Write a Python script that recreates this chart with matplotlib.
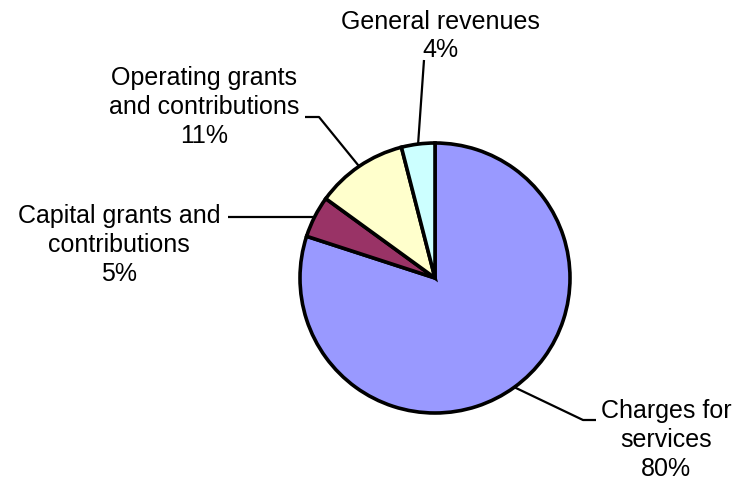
import numpy as np
import matplotlib.pyplot as plt

plt.rcParams['font.family'] = ['Liberation Sans', 'DejaVu Sans']

# Revenue sources, shares in percent
labels = ['Charges for\nservices', 'Capital grants and\ncontributions',
          'Operating grants\nand contributions', 'General revenues']
shares = [80, 5, 11, 4]
colors = ['#9999FF', '#993366', '#FFFFCC', '#CCFFFF']

W, H = 741, 483
cx, cy, r = 435, H - 278, 135

fig = plt.figure(figsize=(W / 100, H / 100), dpi=100)
ax = fig.add_axes([0, 0, 1, 1])

wedges, _ = ax.pie(shares, colors=colors, startangle=90, counterclock=False,
                   center=(cx, cy), radius=r,
                   wedgeprops=dict(edgecolor='black', linewidth=2.6))

# pie() sets its own limits, so work in pixel units afterwards
ax.set_xlim(0, W)
ax.set_ylim(0, H)
ax.set_aspect('equal')
ax.axis('off')

# label text centre and leader-line bends (pixel coords, y from top;
# None keeps the y of the previous point)
label_pos = [(666, 440), (119, 245), (204, 107), (440, 36)]
elbows = [[(583, 420), (596, 420)],
          [(228, None)],
          [(319, 117), (305, 117)],
          [(424, 60)]]

for w, txt, pct, (tx, ty), elbow in zip(wedges, labels, shares, label_pos, elbows):
    mid = np.deg2rad((w.theta1 + w.theta2) / 2)
    xs = [cx + r * np.cos(mid)]
    ys = [cy + r * np.sin(mid)]
    for ex, ey in elbow:
        xs.append(ex)
        ys.append(ys[-1] if ey is None else H - ey)
    ax.plot(xs, ys, color='black', lw=1.6, solid_capstyle='butt')
    ax.text(tx, H - ty, f'{txt}\n{pct}%', ha='center', va='center',
            fontsize=18, linespacing=1.26)

fig.savefig('out.png', dpi=100)
